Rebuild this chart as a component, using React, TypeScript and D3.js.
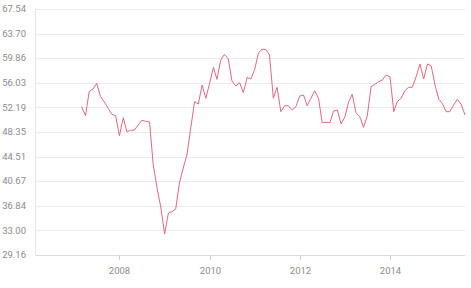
import React from "react";
import * as d3 from "d3";

const startYear = 2007;
const startMonth = 2; // March (0-based)
const values: number[] = [
  52.30, 50.89, 54.67, 55.06, 55.95, 53.86, 53.03, 52.05, 51.11, 50.89,
  47.77, 50.58, 48.40, 48.62, 48.66, 49.44, 50.18, 50.02, 49.91, 43.20,
  39.61, 36.65, 32.44, 35.71, 35.92, 36.34, 40.39, 42.73, 44.76, 48.97,
  53.08, 52.72, 55.68, 53.61, 55.95, 58.44, 56.57, 59.58, 60.47, 59.74,
  56.31, 55.53, 56.04, 54.48, 56.88, 56.62, 58.13, 60.72, 61.25, 61.22,
  60.36, 53.61, 55.32, 51.52, 52.45, 52.45, 51.78, 52.30, 53.97, 54.12,
  52.45, 53.61, 54.79, 53.61, 49.80, 49.86, 49.80, 51.63, 51.78, 49.60,
  50.74, 53.08, 54.23, 51.36, 50.74, 49.08, 50.85, 55.42, 55.79, 56.20,
  56.46, 57.24, 56.98, 51.52, 53.08, 53.61, 54.79, 55.32, 55.32, 56.98,
  58.96, 56.62, 58.96, 58.69, 55.68, 53.45, 52.83, 51.52, 51.52, 52.56,
  53.45, 52.67, 51.00,
];
const yTicks: number[] = [29.16, 33.0, 36.84, 40.67, 44.51, 48.35, 52.19, 56.03, 59.86, 63.7, 67.54];
const xTickYears: number[] = [2008, 2010, 2012, 2014];

const data = values.map((v, i) => ({ date: new Date(startYear, startMonth + i, 1), value: v }));

export default function App() {
  const width = 471;
  const height = 288;
  const left = 35.5;
  const right = 465;
  const top = 9;
  const bottom = 255;

  const x = d3
    .scaleTime()
    .domain([new Date(2006, 1, 20), data[data.length - 1].date])
    .range([left, right]);
  const y = d3.scaleLinear().domain([29.16, 67.54]).range([bottom, top]);

  const line = d3
    .line<{ date: Date; value: number }>()
    .x((d) => x(d.date))
    .y((d) => y(d.value));

  const font = "Roboto, 'Noto Sans', sans-serif";

  return (
    <svg
      width={width}
      height={height}
      style={{ position: "absolute", left: 0, top: 0, background: "#fff" }}
    >
      {yTicks.map((t) => (
        <g key={t}>
          <line
            x1={left}
            x2={right}
            y1={Math.round(y(t)) + 0.5}
            y2={Math.round(y(t)) + 0.5}
            stroke={t === yTicks[0] ? "#dcdcdc" : "#ececec"}
            strokeWidth={1}
          />
          <text
            x={26}
            y={y(t)}
            dy="0.33em"
            textAnchor="end"
            fontFamily={font}
            fontSize={9.5}
            fill="#8c8c8c"
          >
            {t.toFixed(2)}
          </text>
        </g>
      ))}
      <line x1={left} x2={left} y1={top} y2={bottom} stroke="#e6e6e6" strokeWidth={1} />
      {xTickYears.map((yr) => {
        const xp = Math.round(x(new Date(yr, 0, 1))) + 0.5;
        return (
          <g key={yr}>
            <line x1={xp} x2={xp} y1={bottom} y2={bottom + 5} stroke="#cfcfcf" strokeWidth={1} />
            <text
              x={xp}
              y={271}
              dy="0.33em"
              textAnchor="middle"
              fontFamily={font}
              fontSize={9.5}
              fill="#8c8c8c"
            >
              {yr}
            </text>
          </g>
        );
      })}
      <path d={line(data) || ""} fill="none" stroke="#e3687f" strokeWidth={1} />
    </svg>
  );
}
